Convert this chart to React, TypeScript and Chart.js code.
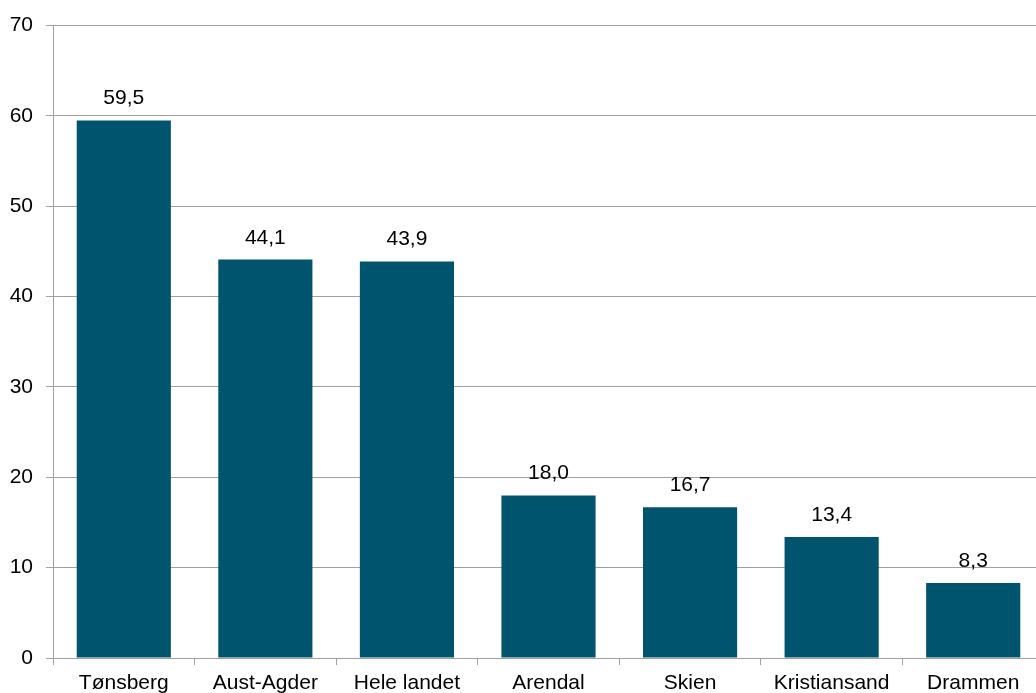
import React, { useEffect, useRef } from "react";
import { Chart, registerables } from "chart.js";

Chart.register(...registerables);

const categories: string[] = ["Tønsberg", "Aust-Agder", "Hele landet", "Arendal", "Skien", "Kristiansand", "Drammen"];
const values: number[] = [59.5, 44.1, 43.9, 18.0, 16.7, 13.4, 8.3];
const yTicks: number[] = [0, 10, 20, 30, 40, 50, 60, 70];

const FONT = "'Liberation Sans', Arial, sans-serif";

const valueLabels = {
  id: "valueLabels",
  afterDatasetsDraw(chart: any) {
    const ctx = chart.ctx;
    const meta = chart.getDatasetMeta(0);
    ctx.save();
    ctx.font = `21px ${FONT}`;
    ctx.fillStyle = "#000000";
    ctx.textAlign = "center";
    ctx.textBaseline = "alphabetic";
    meta.data.forEach((bar: any, i: number) => {
      const v = values[i];
      ctx.fillText(v.toFixed(1).replace(".", ","), bar.x, bar.y - 16);
    });
    ctx.restore();
  },
};

export default function App() {
  const ref = useRef<HTMLCanvasElement>(null);
  useEffect(() => {
    document.body.style.margin = "0";
    const chart = new Chart(ref.current!, {
      type: "bar",
      data: {
        labels: categories,
        datasets: [
          {
            data: values,
            backgroundColor: "#00546E",
            categoryPercentage: 1,
            barPercentage: 0.665,
          },
        ],
      },
      options: {
        animation: false,
        responsive: false,
        maintainAspectRatio: false,
        layout: { padding: { top: 24, right: 0, left: 0, bottom: 0 } },
        plugins: { legend: { display: false }, tooltip: { enabled: false } },
        scales: {
          x: {
            grid: { display: true, drawOnChartArea: false, drawTicks: true, tickLength: 7, color: "#a0a0a0", offset: true },
            border: { display: true, color: "#a0a0a0", width: 1 },
            ticks: { color: "#000000", font: { family: FONT, size: 21 }, padding: 6, maxRotation: 0, autoSkip: false },
            afterFit: (s: any) => { s.height = 35; },
          },
          y: {
            min: 0,
            max: 70,
            afterBuildTicks: (s: any) => { s.ticks = yTicks.map((v) => ({ value: v })); },
            grid: { color: "#a0a0a0", lineWidth: 1, drawTicks: true, tickLength: 7 },
            border: { display: true, color: "#a0a0a0", width: 1 },
            ticks: { color: "#000000", font: { family: FONT, size: 21 }, padding: 13, stepSize: 10 },
            afterFit: (s: any) => { s.width = 53; },
          },
        },
      },
      plugins: [valueLabels],
    });
    return () => chart.destroy();
  }, []);
  return (
    <div style={{ position: "absolute", left: 0, top: 0, width: 1036, height: 693, overflow: "hidden", background: "#fff" }}>
      <canvas ref={ref} width={1044} height={693} style={{ display: "block" }} />
    </div>
  );
}
